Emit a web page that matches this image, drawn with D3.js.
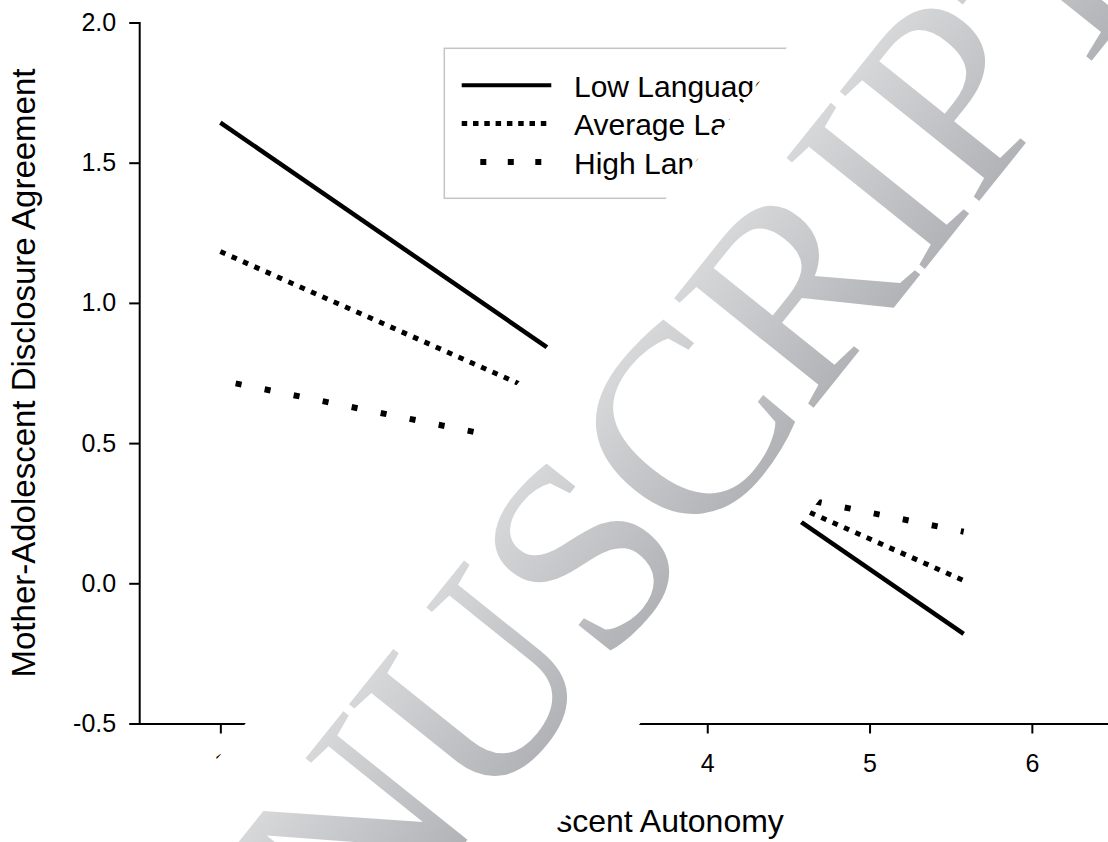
<!DOCTYPE html>
<html>
<head>
<meta charset="utf-8">
<script src="https://cdn.jsdelivr.net/npm/d3@7"></script>
<style>
  body { margin: 0; background: #fff; }
  svg { display: block; }
  .axis text { font-family: "Liberation Sans", Arial, sans-serif; font-size: 25px; fill: #000; }
  .axis path, .axis line { stroke: #000; stroke-width: 2; }
  .title { font-family: "Liberation Sans", Arial, sans-serif; font-size: 32px; fill: #000; }
  .ytitle { font-size: 33px; }
  .legend text { font-family: "Liberation Sans", Arial, sans-serif; font-size: 30px; fill: #000; }
</style>
</head>
<body>
<div id="chart"></div>
<script>
// chart values (simple slopes, two end points each)
const xValues = [1, 5.58];
const lowLanguage = [1.643, -0.180];
const averageLanguage = [1.183, 0.010];
const highLanguage = [0.724, 0.184];
const seriesNames = ["Low Language", "Average Language", "High Language"];
const xTicks = [1, 2, 3, 4, 5, 6];
const yTicks = [-0.5, 0.0, 0.5, 1.0, 1.5, 2.0];
const xTitle = "Adolescent Autonomy";
const yTitle = "Mother-Adolescent Disclosure Agreement";
const watermarkText = "ACCEPTED MANUSCRIPT";

const width = 1108, height = 842;

const svg = d3.select("#chart").append("svg")
    .attr("width", width)
    .attr("height", height)
    .style("overflow", "hidden");

const x = d3.scaleLinear().domain([0.5, 6.5]).range([139.2, 1113]);
const y = d3.scaleLinear().domain([-0.5, 2.0]).range([723.5, 22.5]);

// axes
svg.append("g")
    .attr("class", "axis")
    .attr("transform", `translate(0,${y(-0.5)})`)
    .call(d3.axisBottom(x).tickValues(xTicks).tickFormat(d => String(d))
        .tickSize(10).tickSizeOuter(0).tickPadding(21));

svg.append("g")
    .attr("class", "axis")
    .attr("transform", `translate(${x(0.5)},0)`)
    .call(d3.axisLeft(y).tickValues(yTicks).tickFormat(d => d.toFixed(1))
        .tickSize(10).tickSizeOuter(0).tickPadding(13));

svg.selectAll(".axis .domain").attr("stroke-linecap", "square");

svg.append("text")
    .attr("class", "title")
    .attr("text-anchor", "middle")
    .attr("x", x(3.5) + 3)
    .attr("y", 831.5)
    .text(xTitle);

svg.append("text")
    .attr("class", "title ytitle")
    .attr("text-anchor", "middle")
    .attr("transform", `translate(35,${(y(-0.5) + y(2.0)) / 2}) rotate(-90)`)
    .text(yTitle);

// series
const series = [
    { name: seriesNames[0], values: lowLanguage, width: 4.5, dash: null, offset: 0, legendWidth: 4, legendDash: null, legendOffset: 0 },
    { name: seriesNames[1], values: averageLanguage, width: 5, dash: "5.5 6.9", offset: 0, legendWidth: 5, legendDash: "5.5 5.8", legendOffset: 0 },
    { name: seriesNames[2], values: highLanguage, width: 6, dash: "6 23.6", offset: 14, legendWidth: 6, legendDash: "6 21.5", legendOffset: 8.9 }
];

const line = d3.line()
    .x((d, i) => x(xValues[i]))
    .y(d => y(d));

svg.selectAll(".series")
    .data(series)
    .enter()
    .append("path")
    .attr("class", "series")
    .attr("d", d => line(d.values))
    .attr("fill", "none")
    .attr("stroke", "#000")
    .attr("stroke-width", d => d.width)
    .attr("stroke-dasharray", d => d.dash)
    .attr("stroke-dashoffset", d => d.offset);

// legend
const legend = svg.append("g").attr("class", "legend");
const legendX = 444.3, legendY = 48.3, rowGap = 38.3;

const legendBox = legend.append("rect")
    .attr("x", legendX)
    .attr("y", legendY)
    .attr("height", 150)
    .attr("fill", "#fff")
    .attr("stroke", "#c4c4c4")
    .attr("stroke-width", 1.5);

const rows = legend.selectAll(".row")
    .data(series)
    .enter()
    .append("g")
    .attr("class", "row")
    .attr("transform", (d, i) => `translate(${legendX}, ${legendY + 37 + i * rowGap})`);

rows.append("line")
    .attr("x1", 17.4)
    .attr("x2", 107)
    .attr("stroke", "#000")
    .attr("stroke-width", d => d.legendWidth)
    .attr("stroke-dasharray", d => d.legendDash)
    .attr("stroke-dashoffset", d => d.legendOffset);

const labels = rows.append("text")
    .attr("x", 129.7)
    .attr("dy", "0.39em")
    .text(d => d.name);

let maxLabel = 0;
labels.each(function () { maxLabel = Math.max(maxLabel, this.getComputedTextLength()); });
legendBox.attr("width", 129.7 + maxLabel + 24);

// watermark over the figure
const ctx = document.createElement("canvas").getContext("2d");
const probe = "ACCEPTED MANUSCRIPT";
ctx.font = "100px 'Liberation Serif', monospace";
const wLib = ctx.measureText(probe).width;
ctx.font = "100px monospace";
const wMono = ctx.measureText(probe).width;
const hasTimes = Math.abs(wLib - wMono) > 0.5;
const wmFont = hasTimes ? "'Liberation Serif'" : "'DejaVu Serif'";

ctx.font = `100px ${wmFont}`;
const capRatio = ctx.measureText("I").actualBoundingBoxAscent / 100;
const wmSize = 176 / capRatio;
ctx.font = `${wmSize}px ${wmFont}`;
// distance U centre -> I centre in the reference is about 643px
const natural = ctx.measureText("U").width / 2 + ctx.measureText("SCR").width + ctx.measureText("I").width / 2;
const spacing = (643 - natural) / 4;

const defs = svg.append("defs");
const grad = defs.append("linearGradient")
    .attr("id", "wmGrad")
    .attr("gradientUnits", "userSpaceOnUse")
    .attr("x1", 0).attr("y1", -185)
    .attr("x2", 0).attr("y2", 0);
grad.append("stop").attr("offset", 0).attr("stop-color", "#d8d9db");
grad.append("stop").attr("offset", 1).attr("stop-color", "#b2b3b6");

const wm = svg.append("g").attr("class", "watermark");
const wmText = wm.append("text")
    .attr("font-family", wmFont)
    .attr("font-size", wmSize)
    .attr("letter-spacing", spacing)
    .attr("fill", "url(#wmGrad)")
    .text(watermarkText);

if (!hasTimes) {
    // thin the heavier fallback face a little
    wmText.attr("stroke", "#fff").attr("stroke-width", 9).attr("stroke-linejoin", "round");
}

const iIndex = watermarkText.lastIndexOf("I");
const ext = wmText.node().getExtentOfChar(iIndex);
const cx = ext.x + (ext.width - (hasTimes ? 0 : 0)) / 2;

wm.insert("rect", "text")
    .attr("x", cx - 2000)
    .attr("y", -246)
    .attr("width", 4000)
    .attr("height", 308)
    .attr("fill", "#fff");

wm.attr("transform", `translate(946,242.5) rotate(-51.3) translate(${-cx},0)`);
</script>
</body>
</html>
